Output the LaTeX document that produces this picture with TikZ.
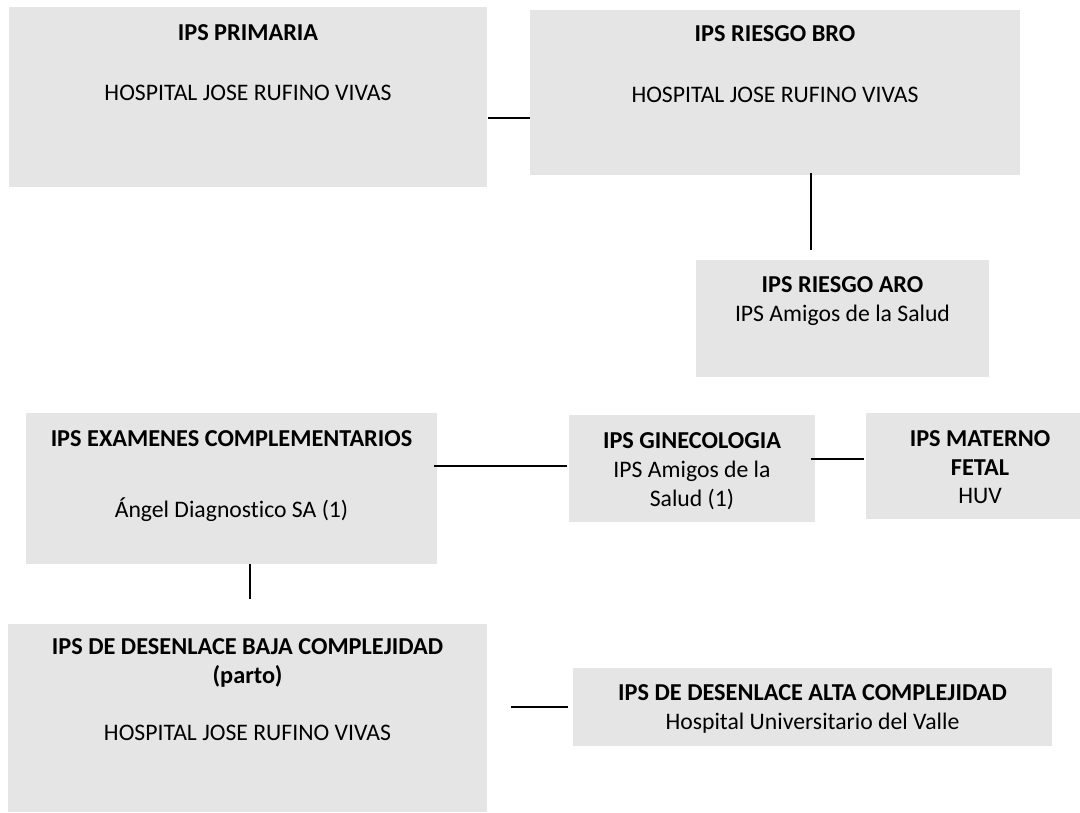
\documentclass[tikz,border=0pt]{standalone}
\usepackage{fontspec}
\setmainfont{Carlito}[Ligatures=NoCommon]
\definecolor{boxgray}{RGB}{229,229,229}
\begin{document}
\begin{tikzpicture}[x=1pt,y=-1pt,
  box/.style={fill=boxgray,draw=none,inner sep=0pt,outer sep=0pt,rectangle},
  ttl/.style={anchor=base,inner sep=0pt,font=\fontsize{24.3}{29}\selectfont\bfseries},
  txt/.style={anchor=base,inner sep=0pt,font=\fontsize{23.7}{29}\selectfont},
  link/.style={line width=2pt,black}]
\useasboundingbox (0,0) rectangle (1080,813);
% boxes
\node[box,minimum width=478pt,minimum height=180pt] (prim) at (248,97) {};
\node[box,minimum width=490pt,minimum height=165pt] (bro) at (775,92.5) {};
\node[box,minimum width=293pt,minimum height=117pt] (aro) at (842.5,318.5) {};
\node[box,minimum width=411pt,minimum height=151pt] (exam) at (231.5,488.5) {};
\node[box,minimum width=246pt,minimum height=107pt] (gine) at (692,468.5) {};
\node[box,minimum width=228pt,minimum height=106pt] (mat) at (980,466) {};
\node[box,minimum width=479pt,minimum height=188pt] (baja) at (247.5,718) {};
\node[box,minimum width=479pt,minimum height=78pt] (alta) at (812.5,707) {};
% texts
\node[ttl] (primt) at (248,41) {IPS PRIMARIA};
\node[txt] (prims) at (248,101) {HOSPITAL JOSE RUFINO VIVAS};
\node[ttl] (brot) at (775,42) {IPS RIESGO BRO};
\node[txt] (bros) at (775,103) {HOSPITAL JOSE RUFINO VIVAS};
\node[ttl] (arot) at (842.5,292.5) {IPS RIESGO ARO};
\node[txt] (aros) at (842.5,322) {IPS Amigos de la Salud};
\node[ttl] (examt) at (231.5,446.5) {IPS EXAMENES COMPLEMENTARIOS};
\node[txt] (exams) at (231.5,517.5) {Ángel Diagnostico SA (1)};
\node[ttl] (ginet) at (692,448.5) {IPS GINECOLOGIA};
\node[txt] (ginea) at (692,477.5) {IPS Amigos de la};
\node[txt] (gineb) at (692,506.5) {Salud (1)};
\node[ttl] (mata) at (980,446.5) {IPS MATERNO};
\node[ttl] (matb) at (980,475) {FETAL};
\node[txt] (mats) at (980,503.5) {HUV};
\node[ttl] (bajaa) at (247.5,654.5) {IPS DE DESENLACE BAJA COMPLEJIDAD};
\node[ttl] (bajab) at (247.5,683) {(parto)};
\node[txt] (bajas) at (247.5,740.5) {HOSPITAL JOSE RUFINO VIVAS};
\node[ttl] (altat) at (812.5,700.5) {IPS DE DESENLACE ALTA COMPLEJIDAD};
\node[txt] (altas) at (812.5,729.5) {Hospital Universitario del Valle};
% connectors
\coordinate (c1) at ([xshift=1pt,yshift=-21pt]prim.east);
\draw[link] (c1) -- (c1 -| bro.west);
\coordinate (c2) at ([xshift=36pt,yshift=2pt]bro.south);
\coordinate (c3) at ([xshift=-31.5pt,yshift=10pt]aro.north);
\draw[link] (c2) -- (c3);
\coordinate (c4) at ([xshift=-3pt,yshift=22.5pt]exam.east);
\draw[link] (c4) -- ([xshift=-2pt]c4 -| gine.west);
\coordinate (c5) at ([xshift=-4pt,yshift=9.5pt]gine.east);
\draw[link] (c5) -- ([xshift=-2pt]c5 -| mat.west);
\coordinate (c6) at ([xshift=18.5pt]exam.south);
\coordinate (c7) at ([xshift=2.5pt,yshift=25pt]baja.north);
\draw[link] (c6) -- (c7);
\coordinate (c8) at ([xshift=24pt,yshift=11pt]baja.east);
\draw[link] (c8) -- ([xshift=-5pt]alta.west);
\end{tikzpicture}
\end{document}
